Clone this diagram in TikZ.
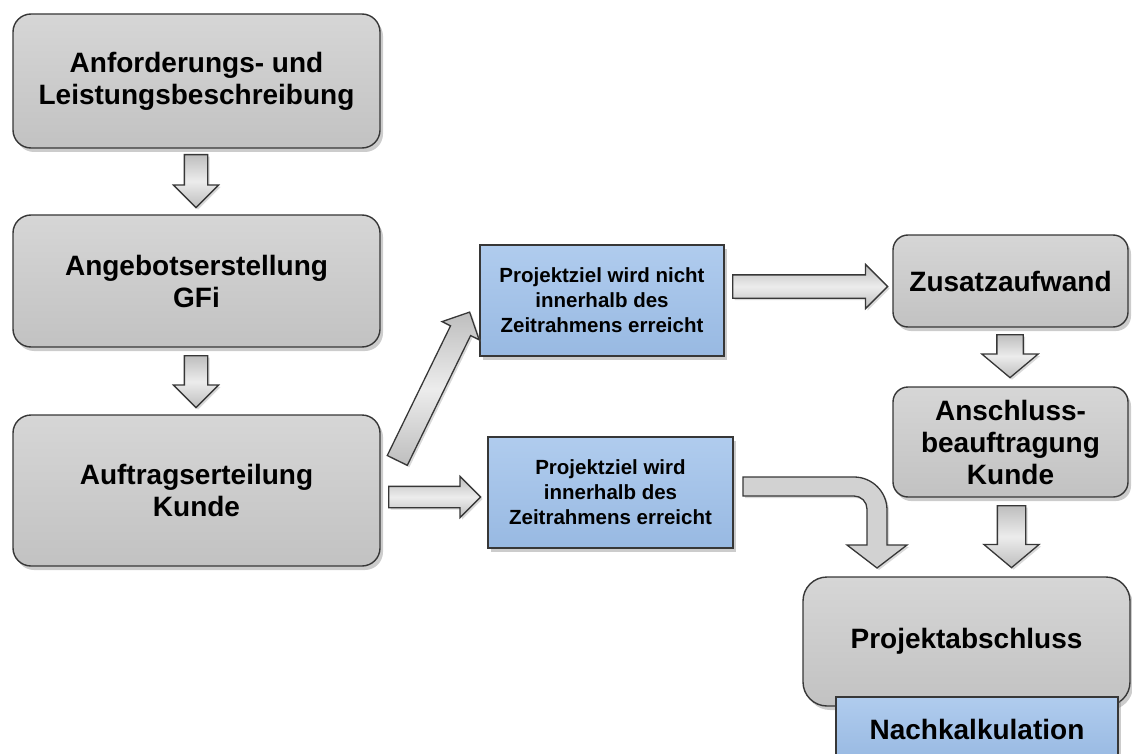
\documentclass[tikz,border=0pt]{standalone}
\usepackage{fontspec}
\setmainfont{Liberation Sans}
\usetikzlibrary{shapes.arrows,shadows,calc}

\definecolor{edge}{RGB}{55,55,55}
\definecolor{graytop}{RGB}{214,214,214}
\definecolor{graybot}{RGB}{194,194,194}
\definecolor{bluetop}{RGB}{176,204,238}
\definecolor{bluebot}{RGB}{152,185,226}
\definecolor{arrowedge}{RGB}{190,190,190}
\definecolor{arrowmid}{RGB}{236,236,236}
\definecolor{arrowfill}{RGB}{210,210,210}

\begin{document}
\begin{tikzpicture}[x=1pt,y=-1pt,
  boxshadow/.style={drop shadow={shadow xshift=3pt,shadow yshift=-4pt,opacity=0.4}},
  graybox/.style={draw=edge,line width=1.4pt,rounded corners=18pt,
    top color=graytop,bottom color=graybot,align=center,inner sep=0pt,
    font=\fontsize{28}{32}\selectfont\bfseries,boxshadow},
  bluebox/.style={draw=edge,line width=1.4pt,
    top color=bluetop,bottom color=bluebot,align=center,inner sep=0pt,
    font=\fontsize{20.5}{25}\selectfont\bfseries,boxshadow},
  blockarrow/.style={single arrow,draw=edge,line width=1.3pt,inner xsep=0pt,
    single arrow tip angle=90,anchor=tail,
    top color=arrowedge,bottom color=arrowedge,middle color=arrowmid,
    drop shadow={shadow xshift=2pt,shadow yshift=-2pt,opacity=0.3}}
]
\useasboundingbox (0,0) rectangle (1132,754);

% main chain on the left
\node[graybox,minimum width=367pt,minimum height=134pt] (req) at (196.5,81)
  {Anforderungs- und\\Leistungsbeschreibung};
\node[graybox,minimum width=367pt,minimum height=132pt] (offer) at (196.5,281)
  {Angebotserstellung\\GFi};
\node[graybox,minimum width=367pt,minimum height=151pt] (order) at (196.5,490.5)
  {Auftragserteilung\\Kunde};

% the two outcomes
\node[bluebox,minimum width=244pt,minimum height=111pt] (late) at (602,300.5)
  {Projektziel wird nicht\\innerhalb des\\Zeitrahmens erreicht};
\node[bluebox,minimum width=245pt,minimum height=111pt] (ontime) at (610.5,492.5)
  {Projektziel wird\\innerhalb des\\Zeitrahmens erreicht};

% right column
\node[graybox,rounded corners=15pt,minimum width=235pt,minimum height=92pt] (extra) at (1010.5,281)
  {Zusatzaufwand};
\node[graybox,rounded corners=15pt,minimum width=235pt,minimum height=110pt] (follow) at (1010.5,442)
  {Anschluss-\\beauftragung\\Kunde};
\node[graybox,rounded corners=24pt,minimum width=327pt,minimum height=129pt] (close) at (966.5,641.5)
  {Projektabschluss};
\node[bluebox,font=\fontsize{28}{32}\selectfont\bfseries,minimum width=282pt,minimum height=64pt] (calc) at (977,729)
  {Nachkalkulation};

% block arrows, placed by their tails (shaft = 2 x inner ysep)
\node[blockarrow,minimum height=53pt,inner ysep=11pt,single arrow head extend=11pt,rotate=-90] (a1) at (196,154) {};
\node[blockarrow,minimum height=52pt,inner ysep=11pt,single arrow head extend=11pt,rotate=-90] (a2) at (196,355) {};
\node[blockarrow,minimum height=165pt,inner ysep=10.5pt,single arrow head extend=9.5pt,rotate=64] (a3) at (397,461) {};
\node[blockarrow,minimum height=92pt,inner ysep=10pt,single arrow head extend=10pt] (a4) at (388,497) {};
\node[blockarrow,minimum height=155pt,inner ysep=11pt,single arrow head extend=10.5pt] (a5) at (732,286.5) {};
\node[blockarrow,single arrow tip angle=100,minimum height=43pt,inner ysep=12.5pt,single arrow head extend=15pt,rotate=-90] (a6) at (1010,334) {};
\node[blockarrow,single arrow tip angle=100,minimum height=62pt,inner ysep=13.5pt,single arrow head extend=13.5pt,rotate=-90] (a7) at (1011.5,505) {};

% bent arrow from the on-time outcome down to the project close
\coordinate (bendtip) at (877,568);
\draw[draw=edge,line width=1.3pt,fill=arrowfill,
      drop shadow={shadow xshift=2pt,shadow yshift=-2pt,opacity=0.3}]
  (743,477) -- (854,477) .. controls (872.2,477) and (887,491.8) .. (887,510)
  -- (887,545) -- (907,545) -- (bendtip) -- (847,545) -- (867,545)
  -- (867,509) .. controls (867,501.8) and (861.2,496) .. (854,496)
  -- (743,496) -- cycle;
\end{tikzpicture}
\end{document}
